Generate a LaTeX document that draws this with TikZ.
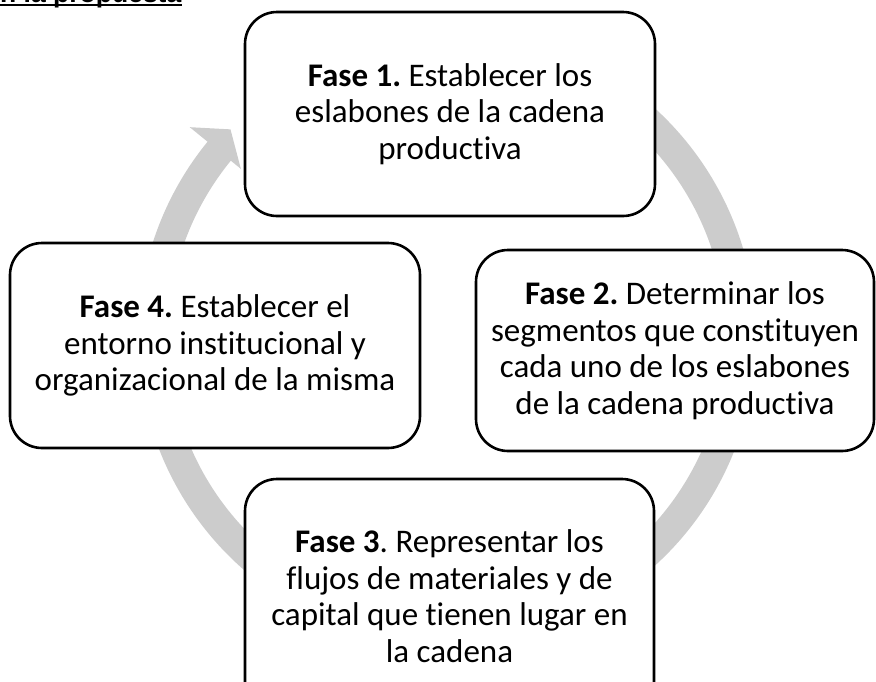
\documentclass[tikz,border=0pt]{standalone}
\usepackage{fontspec}
\setmainfont{Carlito}[Ligatures=NoCommon]
\newfontfamily\titlefont{Liberation Sans}
\usetikzlibrary{calc}
\definecolor{ringc}{RGB}{204,204,204}
\frenchspacing
\begin{document}
\begin{tikzpicture}[x=1pt,y=1pt,
  phase/.style={draw=black, line width=2.6pt, fill=white, rounded corners=32pt,
    align=center, font=\fontsize{33}{36.5}\selectfont, inner sep=0pt}]
\clip (0,0) rectangle (876,-681);
\coordinate (C) at (447,-337);
% grey circular arrow
\fill[ringc] ($(C)+(75:309pt)$) arc[start angle=75,end angle=-219.2,radius=309pt]
  -- ($(C)+(140.8:332pt)$) -- ($(C)+(136.2:300pt)$) -- ($(C)+(140.8:266pt)$)
  -- ($(C)+(140.8:279pt)$) arc[start angle=-219.2,end angle=75,radius=279pt] -- cycle;
% phases
\node[phase, minimum width=410pt, minimum height=204pt] (f1) at (450,-114)
  {\textbf{Fase 1.} Establecer los\\eslabones de la cadena\\productiva};
\node[phase, minimum width=398pt, minimum height=201pt] (f2) at (675,-350.5)
  {\textbf{Fase 2.} Determinar los\\segmentos que constituyen\\cada uno de los eslabones\\de la cadena productiva};
\node[phase, minimum width=409pt, minimum height=234pt] (f3) at (449.5,-596)
  {\textbf{Fase 3}. Representar los\\flujos de materiales y de\\capital que tienen lugar en\\la cadena};
\node[phase, minimum width=410pt, minimum height=205pt] (f4) at (215,-345.5)
  {\textbf{Fase 4.} Establecer el\\entorno institucional y\\organizacional de la misma};
% cut-off heading
\node[font=\titlefont\bfseries\fontsize{26.5}{30}\selectfont, anchor=base west, inner sep=0pt] (title) at (0,-2.5) {n la propuesta};
\draw[line width=2.2pt] ([yshift=-2.8pt]title.base west) -- ([yshift=-2.8pt]title.base east);
\end{tikzpicture}
\end{document}
